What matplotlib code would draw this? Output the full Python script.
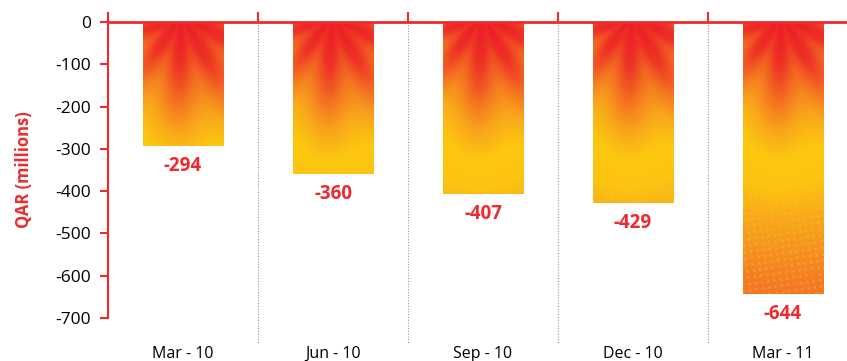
import numpy as np
import matplotlib
matplotlib.use("Agg")
from matplotlib import pyplot as plt
from matplotlib.colors import LinearSegmentedColormap

quarters = ['Mar - 10', 'Jun - 10', 'Sep - 10', 'Dec - 10', 'Mar - 11']
values = [-294, -360, -407, -429, -644]
yticks = [0, -100, -200, -300, -400, -500, -600, -700]

RED = '#ee2a2e'
plt.rcParams['font.family'] = ['Open Sans', 'DejaVu Sans']

fig = plt.figure(figsize=(8.47, 3.61), dpi=100)
ax = fig.add_axes([108 / 847, 43 / 361, 750 / 847, 296 / 361])

x = np.arange(len(quarters))
bars = ax.bar(x, values, width=0.535, color='none', edgecolor='none', zorder=2)

# gradient fill: red at top centre, soft rays fanning out to orange / yellow
cmap = LinearSegmentedColormap.from_list('sun', [
    (0.0, '#ec2227'), (0.1, '#ee3325'), (0.25, '#f47421'),
    (0.38, '#f9a81b'), (0.5, '#fdc80f'), (0.62, '#fcc311'),
    (0.8, '#f7a01c'), (1.0, '#f37a22')])
px_x = 150.0   # pixels per x unit
px_y = 296 / 700.0  # pixels per y unit
for b in bars:
    w = b.get_width()
    h = b.get_height()
    x0 = b.get_x()
    nx = int(w * px_x)
    ny = int(abs(h) * px_y)
    gx, gy = np.meshgrid(np.arange(nx) - nx / 2.0 + 2, np.arange(ny) + 6)
    d = np.hypot(gx, gy)
    theta = np.arctan2(gx, gy)
    ray = 0.5 + 0.5 * np.cos(theta * 11 + 0.6)
    fade = np.clip(1 - (d - 70) / 130.0, 0, 1)
    t = d / 270.0 - 0.09 * ray * fade + 0.05 * np.clip(-gx / 40.0, 0, 1) * fade
    t = np.clip(t, 0, 1)
    rgba = cmap(t)
    # halftone dots in lower part
    u = gx * 0.8 + gy * 0.6
    v = -gx * 0.6 + gy * 0.8
    dots = (np.cos(u * 0.7) * np.cos(v * 0.7)) > 0.55
    lower = np.clip((d - 120) / 110.0, 0, 1)
    k = 0.2 * dots[..., None] * lower[..., None]
    rgba[..., :3] = rgba[..., :3] * (1 - k) + np.array([1.0, 0.85, 0.45]) * k
    im = ax.imshow(rgba, extent=[x0, x0 + w, h, 0], aspect='auto',
                   interpolation='bilinear', zorder=2)
    im.set_clip_path(b)

for xi, v in zip(x, values):
    ax.annotate(str(v), (xi, v), xytext=(0, -14), textcoords='offset points',
                ha='center', va='center', color=RED, fontsize=13.5,
                fontweight='bold')

# dotted separators and top tick marks
for xb in x[1:] - 0.5:
    ax.plot([xb, xb], [0, -760], ls=(0, (1, 1.5)), color='#999999', lw=0.8,
            clip_on=False, zorder=1)
    ax.plot([xb, xb], [0, 22], color=RED, lw=1.5, clip_on=False, zorder=3)
ax.plot([-0.5, -0.5], [0, 22], color=RED, lw=1.5, clip_on=False, zorder=3)

ax.set_xlim(-0.5, 4.5)
ax.set_ylim(-700, 0)
ax.set_xticks(x)
ax.set_xticklabels(quarters, fontsize=11.5)
ax.tick_params(axis='x', length=0, pad=20)
ax.set_yticks(yticks)
ax.set_yticklabels([str(t) for t in yticks], fontsize=12.5)
ax.tick_params(axis='y', length=6, width=1.5, color=RED, pad=6)
ax.set_ylabel('QAR (millions)', color=RED, fontweight='bold', fontsize=12)
ax.yaxis.set_label_coords(-0.1, 0.5)

for s in ['right', 'bottom']:
    ax.spines[s].set_visible(False)
ax.spines['left'].set_color(RED)
ax.spines['left'].set_linewidth(1.5)
ax.spines['top'].set_color(RED)
ax.spines['top'].set_linewidth(2)
ax.spines['top'].set_zorder(3)

fig.savefig('out.png', dpi=100)
